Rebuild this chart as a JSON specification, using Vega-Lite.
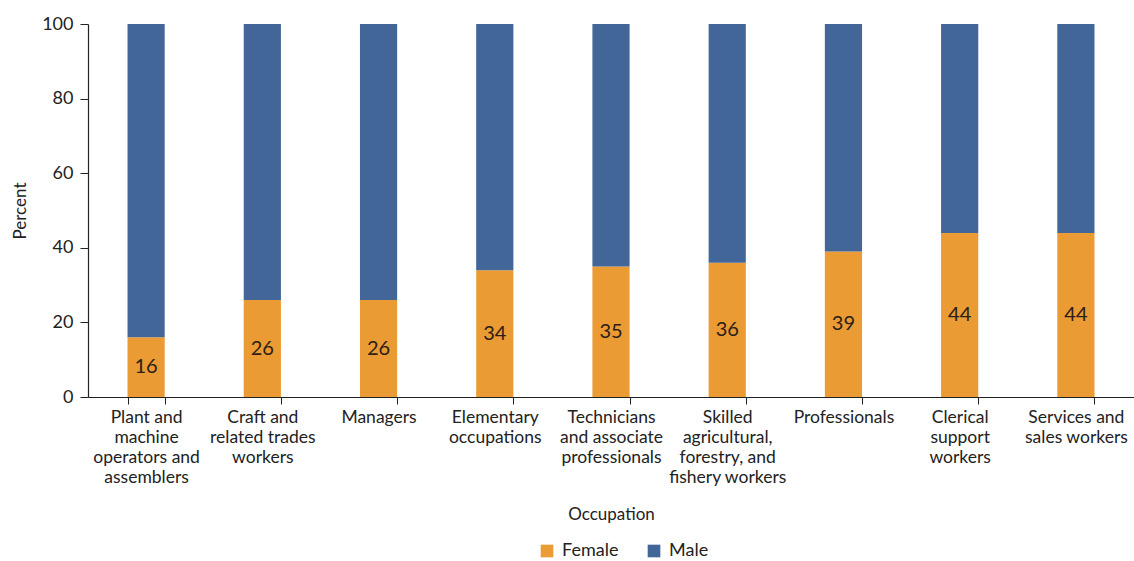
{
  "$schema": "https://vega.github.io/schema/vega-lite/v6.json",
  "autosize": "none",
  "padding": {"left": 88, "top": 24, "right": 0, "bottom": 164},
  "width": 1046,
  "height": 373,
  "background": "white",
  "config": {
    "font": "Lato",
    "view": {"stroke": null},
    "axis": {"labelFont": "Lato", "titleFont": "Lato", "labelColor": "#222", "titleColor": "#222", "titleFontWeight": "normal", "domainColor": "#222", "tickColor": "#222"},
    "legend": {"labelFont": "Lato", "labelColor": "#222"}
  },
  "data": {
    "values": [
      {"occupation": "Plant and machine operators and assemblers", "sex": "Female", "percent": 16},
      {"occupation": "Plant and machine operators and assemblers", "sex": "Male", "percent": 84},
      {"occupation": "Craft and related trades workers", "sex": "Female", "percent": 26},
      {"occupation": "Craft and related trades workers", "sex": "Male", "percent": 74},
      {"occupation": "Managers", "sex": "Female", "percent": 26},
      {"occupation": "Managers", "sex": "Male", "percent": 74},
      {"occupation": "Elementary occupations", "sex": "Female", "percent": 34},
      {"occupation": "Elementary occupations", "sex": "Male", "percent": 66},
      {"occupation": "Technicians and associate professionals", "sex": "Female", "percent": 35},
      {"occupation": "Technicians and associate professionals", "sex": "Male", "percent": 65},
      {"occupation": "Skilled agricultural, forestry, and fishery workers", "sex": "Female", "percent": 36},
      {"occupation": "Skilled agricultural, forestry, and fishery workers", "sex": "Male", "percent": 64},
      {"occupation": "Professionals", "sex": "Female", "percent": 39},
      {"occupation": "Professionals", "sex": "Male", "percent": 61},
      {"occupation": "Clerical support workers", "sex": "Female", "percent": 44},
      {"occupation": "Clerical support workers", "sex": "Male", "percent": 56},
      {"occupation": "Services and sales workers", "sex": "Female", "percent": 44},
      {"occupation": "Services and sales workers", "sex": "Male", "percent": 56}
    ]
  },
  "encoding": {
    "x": {
      "field": "occupation",
      "type": "nominal",
      "sort": null,
      "scale": {"paddingInner": 0.68, "paddingOuter": 0.34},
      "axis": {
        "title": "Occupation",
        "titleFontSize": 17,
        "titlePadding": 21,
        "labelAngle": 0,
        "labelFontSize": 17.5,
        "labelLineHeight": 20,
        "labelPadding": 4,
        "labelBaseline": "top",
        "tickSize": 7,
        "tickBand": "extent",
        "domainWidth": 1.2,
        "labelExpr": "{'Plant and machine operators and assemblers': ['Plant and', 'machine', 'operators and', 'assemblers'], 'Craft and related trades workers': ['Craft and', 'related trades', 'workers'], 'Managers': ['Managers'], 'Elementary occupations': ['Elementary', 'occupations'], 'Technicians and associate professionals': ['Technicians', 'and associate', 'professionals'], 'Skilled agricultural, forestry, and fishery workers': ['Skilled', 'agricultural,', 'forestry, and', 'fishery workers'], 'Professionals': ['Professionals'], 'Clerical support workers': ['Clerical', 'support', 'workers'], 'Services and sales workers': ['Services and', 'sales workers']}[datum.value]"
      }
    }
  },
  "layer": [
    {
      "mark": {"type": "bar"},
      "encoding": {
        "y": {
          "field": "percent",
          "type": "quantitative",
          "stack": "zero",
          "scale": {"domain": [0, 100], "nice": false},
          "axis": {
            "title": "Percent",
            "titleFontSize": 17,
            "titlePadding": 12,
            "labelFontSize": 18,
            "labelPadding": 7,
            "labelOverlap": false,
            "tickSize": 8,
            "values": [0, 20, 40, 60, 80, 100],
            "grid": false,
            "domainWidth": 1.2
          }
        },
        "color": {
          "field": "sex",
          "type": "nominal",
          "scale": {"domain": ["Female", "Male"], "range": ["#EB9B34", "#416697"]},
          "legend": {
            "title": null,
            "orient": "none",
            "legendX": 450,
            "legendY": 518,
            "direction": "horizontal",
            "symbolType": "square",
            "symbolSize": 160,
            "labelFontSize": 18,
            "labelOffset": 6,
            "columnPadding": 26
          }
        },
        "order": {"field": "sex", "sort": "ascending"}
      }
    },
    {
      "transform": [{"filter": "datum.sex === 'Female'"}],
      "mark": {"type": "text", "fontSize": 20, "color": "#2a2016", "baseline": "middle"},
      "encoding": {
        "y": {"field": "percent", "type": "quantitative", "stack": "zero", "bandPosition": 0.5},
        "detail": {"field": "sex", "type": "nominal"},
        "text": {"field": "percent", "type": "quantitative"}
      }
    }
  ]
}
